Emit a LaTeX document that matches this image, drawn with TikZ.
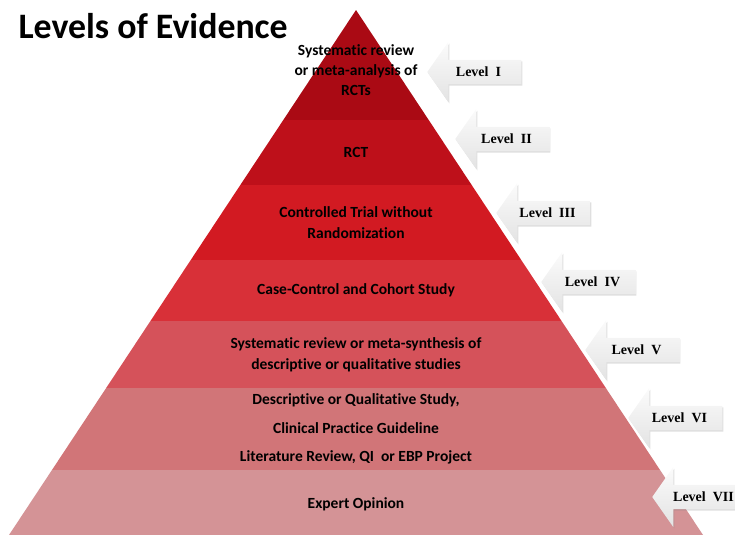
\documentclass[tikz,border=0pt]{standalone}
\usepackage{fontspec}
\setmainfont{Carlito}[Ligatures=NoCommon]
\newfontfamily\levelfont{Liberation Serif}
\usetikzlibrary{shapes.arrows,shadows}

% band colours, top to bottom
\definecolor{bandA}{HTML}{AA0A14}
\definecolor{bandB}{HTML}{BE101A}
\definecolor{bandC}{HTML}{D21A22}
\definecolor{bandD}{HTML}{D83038}
\definecolor{bandE}{HTML}{D5525A}
\definecolor{bandF}{HTML}{D17578}
\definecolor{bandG}{HTML}{D49396}

\begin{document}
\begin{tikzpicture}[
    x=1pt, y=-1pt,
    title/.style = {font=\bfseries\fontsize{35.8}{40}\selectfont, anchor=base west},
    band/.style  = {font=\bfseries\fontsize{15.5}{20}\selectfont, align=center,
                    text=black, inner sep=0pt},
    lvl/.style   = {single arrow, shape border rotate=180, anchor=tip,
                    minimum height=94pt, minimum width=60pt,
                    single arrow head extend=12.5pt, single arrow tip angle=110,
                    top color=gray!3, bottom color=gray!22, draw=none,
                    drop shadow={shadow xshift=1.2pt, shadow yshift=-1.5pt, opacity=.25},
                    font=\levelfont\bfseries\fontsize{14}{16}\selectfont},
]
\useasboundingbox (0,0) rectangle (735,535);

%% -- Pyramid bands -------------------------------------------------------
\begin{scope}
  \clip (356,10) -- (703,535) -- (9,535) -- cycle;
  \foreach \ytop/\ybot/\col in {10/120/bandA, 120/185/bandB, 185/260/bandC,
      260/321/bandD, 321/388/bandE, 388/470/bandF, 470/535/bandG}
    \fill[\col] (0,\ytop) rectangle (735,\ybot);
\end{scope}

%% -- Title ---------------------------------------------------------------
\node[title] (head) at (15,38) {Levels of Evidence};

%% -- Band texts ----------------------------------------------------------
\node[band] (rcts)   at (356,70)  {Systematic review\\or meta-analysis of\\RCTs};
\node[band] (rct)    at (356,152) {RCT};
\node[band, font=\bfseries\fontsize{15.5}{21}\selectfont] (ctrl) at (356,223)
  {Controlled Trial without\\Randomization};
\node[band] (cohort) at (356,290) {Case-Control and Cohort Study};
\node[band, font=\bfseries\fontsize{15.5}{21}\selectfont] (synth) at (356,355)
  {Systematic review or meta-synthesis of\\descriptive or qualitative studies};
\node[band, font=\bfseries\fontsize{15.5}{28.5}\selectfont] (descr) at (356,429)
  {Descriptive or Qualitative Study,\\Clinical Practice Guideline\\Literature Review, QI~ or EBP Project};
\node[band] (expert) at (356,504) {Expert Opinion};

%% -- Level arrows --------------------------------------------------------
\foreach \x/\y/\lev [count=\i] in {427/72/I, 455/139/II, 496/213/III,
    541/282/IV, 585/350/V, 628/418/VI, 652/497/VII}
  \node[lvl] (lv\i) at (\x,\y) {Level~~\lev};

\end{tikzpicture}
\end{document}
